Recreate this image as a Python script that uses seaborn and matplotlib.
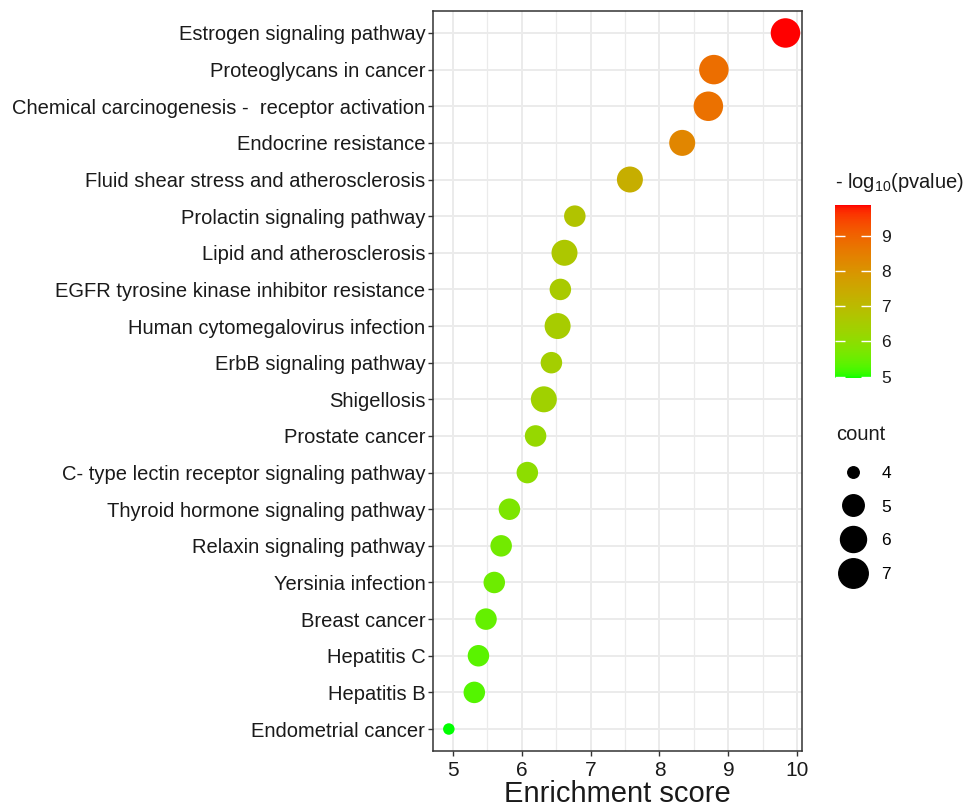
import numpy as np
import pandas as pd
import matplotlib
matplotlib.use("Agg")
import matplotlib.pyplot as plt
from matplotlib.colors import ListedColormap, Normalize
from matplotlib.lines import Line2D
import matplotlib.colorbar as mcolorbar
import seaborn as sns

pathways = [
    "Estrogen signaling pathway",
    "Proteoglycans in cancer",
    "Chemical carcinogenesis -  receptor activation",
    "Endocrine resistance",
    "Fluid shear stress and atherosclerosis",
    "Prolactin signaling pathway",
    "Lipid and atherosclerosis",
    "EGFR tyrosine kinase inhibitor resistance",
    "Human cytomegalovirus infection",
    "ErbB signaling pathway",
    "Shigellosis",
    "Prostate cancer",
    "C- type lectin receptor signaling pathway",
    "Thyroid hormone signaling pathway",
    "Relaxin signaling pathway",
    "Yersinia infection",
    "Breast cancer",
    "Hepatitis C",
    "Hepatitis B",
    "Endometrial cancer",
]
enrichment = [9.83, 8.79, 8.71, 8.33, 7.57, 6.77, 6.62, 6.56, 6.52, 6.43,
              6.32, 6.20, 6.08, 5.82, 5.70, 5.60, 5.48, 5.37, 5.31, 4.94]
neglog10p = [9.87, 8.80, 8.75, 8.30, 7.35, 6.75, 6.65, 6.55, 6.50, 6.45,
             6.35, 6.15, 6.00, 5.75, 5.60, 5.55, 5.45, 5.35, 5.30, 4.96]
counts = [7, 7, 7, 6, 6, 5, 6, 5, 6, 5, 6, 5, 5, 5, 5, 5, 5, 5, 5, 4]
size_levels = [4, 5, 6, 7]
x_ticks = [5, 6, 7, 8, 9, 10]
cbar_ticks = [5, 6, 7, 8, 9]

df = pd.DataFrame({"pathway": pathways, "score": enrichment,
                   "p": neglog10p, "count": counts})

# Lab interpolation green -> red (like ggplot scale_colour_gradient)
def srgb_to_lab(rgb):
    rgb = np.asarray(rgb, float)
    lin = np.where(rgb <= 0.04045, rgb / 12.92, ((rgb + 0.055) / 1.055) ** 2.4)
    M = np.array([[0.4124, 0.3576, 0.1805],
                  [0.2126, 0.7152, 0.0722],
                  [0.0193, 0.1192, 0.9505]])
    xyz = M @ lin
    wp = np.array([0.95047, 1.0, 1.08883])
    t = xyz / wp
    f = np.where(t > (6/29) ** 3, np.cbrt(t), t / (3 * (6/29) ** 2) + 4/29)
    return np.array([116 * f[1] - 16, 500 * (f[0] - f[1]), 200 * (f[1] - f[2])])

def lab_to_srgb(lab):
    L, a, b = lab
    fy = (L + 16) / 116
    fx = fy + a / 500
    fz = fy - b / 200
    def finv(f):
        return np.where(f > 6/29, f ** 3, 3 * (6/29) ** 2 * (f - 4/29))
    wp = np.array([0.95047, 1.0, 1.08883])
    xyz = np.array([finv(fx), finv(fy), finv(fz)]) * wp
    Minv = np.array([[3.2406, -1.5372, -0.4986],
                     [-0.9689, 1.8758, 0.0415],
                     [0.0557, -0.2040, 1.0570]])
    lin = Minv @ xyz
    lin = np.clip(lin, 0, 1)
    rgb = np.where(lin <= 0.0031308, 12.92 * lin, 1.055 * lin ** (1/2.4) - 0.055)
    return np.clip(rgb, 0, 1)

lab_lo = srgb_to_lab([0, 1, 0])
lab_hi = srgb_to_lab([1, 0, 0])
cols = [lab_to_srgb(lab_lo + (lab_hi - lab_lo) * t) for t in np.linspace(0, 1, 256)]
cmap = ListedColormap(cols)
vmin, vmax = 4.955, 9.87
norm = Normalize(vmin, vmax)

plt.rcParams["font.family"] = ["Liberation Sans", "DejaVu Sans"]
plt.rcParams["mathtext.fontset"] = "custom"
plt.rcParams["mathtext.rm"] = "Liberation Sans"
plt.rcParams["mathtext.default"] = "regular"

W, H = 968, 809
fig = plt.figure(figsize=(W / 100, H / 100), dpi=100)
ax = fig.add_axes([433 / W, 1 - 751 / H, (802 - 433) / W, (751 - 11) / H])

def d2s(px):
    return (px * 0.72) ** 2

sizes = {4: d2s(11.5), 5: d2s(21.5), 6: d2s(26), 7: d2s(29.5)}

sns.scatterplot(data=df, x="score", y="pathway", hue="p", palette=cmap,
                hue_norm=norm, size="count", sizes=sizes, linewidth=0,
                legend=False, ax=ax, zorder=3)

ax.set_xticks(x_ticks)
ax.set_xticks([4.5 + 0.5 * i for i in range(13) if (4.5 + 0.5 * i) % 1 != 0], minor=True)
ax.set_xlim(4.71, 10.07)
ax.set_ylim(len(pathways) - 0.4, -0.6)
ax.grid(True, which="major", color="#EBEBEB", linewidth=1.4, zorder=0)
ax.grid(True, which="minor", axis="x", color="#EBEBEB", linewidth=0.9, zorder=0)
ax.set_axisbelow(True)
for s in ax.spines.values():
    s.set_color("#333333")
    s.set_linewidth(1.1)
ax.tick_params(axis="both", which="major", length=3.5, width=1.0, color="#333333",
               labelcolor="#1A1A1A")
ax.tick_params(axis="y", which="major", labelsize=14.5, pad=2)
ax.tick_params(axis="x", which="major", labelsize=15, pad=4)
ax.tick_params(axis="x", which="minor", length=0)
ax.set_ylabel("")
ax.set_xlabel("Enrichment score", fontsize=21, color="#1A1A1A", labelpad=0)

# colour bar
cax = fig.add_axes([835 / W, 1 - 378.3 / H, 35.5 / W, 173.3 / H])
cb = mcolorbar.ColorbarBase(cax, cmap=cmap, norm=norm, orientation="vertical")
cb.outline.set_visible(False)
cb.set_ticks(cbar_ticks)
cax.tick_params(axis="y", which="major", direction="in", color="white", length=7,
                width=1.0, left=True, right=True, labelsize=12.5, pad=8,
                labelcolor="#1A1A1A")
cax.tick_params(axis="y", which="minor", length=0)
fig.text(835 / W, 1 - 183 / H, "- log$_{10}$(pvalue)", fontsize=14.5,
         ha="left", va="center", color="#1A1A1A")

# size legend
fig.text(836 / W, 1 - 434 / H, "count", fontsize=14.5, ha="left", va="center",
         color="#1A1A1A")
handles = [Line2D([], [], marker="o", linestyle="", color="black",
                  markersize=np.sqrt(sizes[k])) for k in size_levels]
leg = fig.legend(handles, [str(k) for k in size_levels],
                 loc="upper left", bbox_to_anchor=(837 / W, 1 - 465.5 / H),
                 frameon=False, fontsize=12.5,
                 labelspacing=1.08, handletextpad=0.75, borderpad=0,
                 borderaxespad=0, handlelength=1.8)

fig.savefig("out.png", dpi=100)
